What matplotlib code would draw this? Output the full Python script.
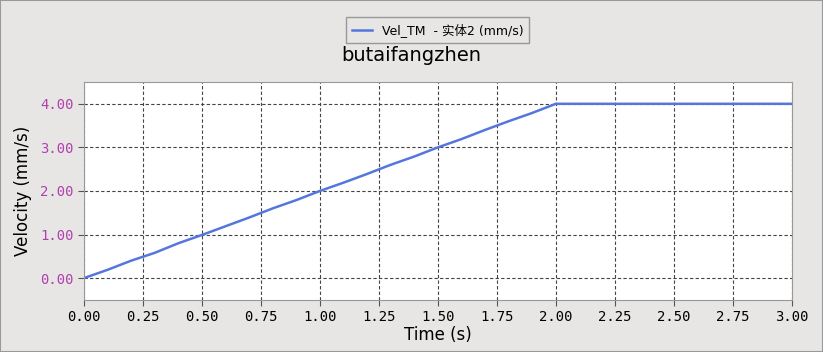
import matplotlib.pyplot as plt
from matplotlib.patches import Rectangle

# time (s) and velocity (mm/s)
time = [0.0, 0.1, 0.2, 0.3, 0.4, 0.5, 0.6, 0.7, 0.8, 0.9, 1.0,
        1.1, 1.2, 1.3, 1.4, 1.5, 1.6, 1.7, 1.8, 1.9, 2.0, 2.5, 3.0]
vel = [0.0, 0.19, 0.40, 0.58, 0.80, 0.99, 1.19, 1.39, 1.60, 1.79, 2.0,
       2.19, 2.39, 2.60, 2.79, 3.0, 3.19, 3.40, 3.60, 3.79, 4.0, 4.0, 4.0]

xticks = [0, 0.25, 0.5, 0.75, 1.0, 1.25, 1.5, 1.75, 2.0, 2.25, 2.5, 2.75, 3.0]
yticks = [0, 1, 2, 3, 4]

plt.rcParams['font.family'] = ['DejaVu Sans', 'Noto Sans CJK SC']

bg = '#e8e6e4'
fig = plt.figure(figsize=(8.23, 3.52), dpi=100, facecolor=bg)
ax = fig.add_axes([0.102, 0.148, 0.860, 0.619])
ax.set_facecolor('white')

ax.plot(time, vel, color='#5577dd', lw=1.8, label='Vel_TM  - 实体2 (mm/s)')

ax.set_xlim(0, 3)
ax.set_ylim(-0.5, 4.5)
ax.set_xticks(xticks)
ax.set_yticks(yticks)
ax.set_xticklabels(['%.2f' % v for v in xticks], family='DejaVu Sans Mono', fontsize=10)
ax.set_yticklabels(['%.2f' % v for v in yticks], family='DejaVu Sans Mono', fontsize=10, color='#b040b0')
ax.tick_params(axis='both', length=4, color='#555555')
ax.grid(True, ls=(0, (3, 2)), color='#444444', lw=0.8)
for s in ax.spines.values():
    s.set_color('#999999')

ax.set_xlabel('Time (s)', fontsize=12, labelpad=1)
ax.set_ylabel('Velocity (mm/s)', fontsize=12, labelpad=6)
fig.text(0.5, 0.843, 'butaifangzhen', ha='center', va='center', fontsize=14)

leg = fig.legend(loc='center', bbox_to_anchor=(0.532, 0.915), fontsize=9,
                 fancybox=False, framealpha=1, facecolor=bg, edgecolor='#999999',
                 handlelength=1.6, borderpad=0.45)

fig.patches.append(Rectangle((0, 0), 1, 1, transform=fig.transFigure,
                             fill=False, edgecolor='#999999', lw=1.5))

fig.savefig('out.png', dpi=100, facecolor=bg)
